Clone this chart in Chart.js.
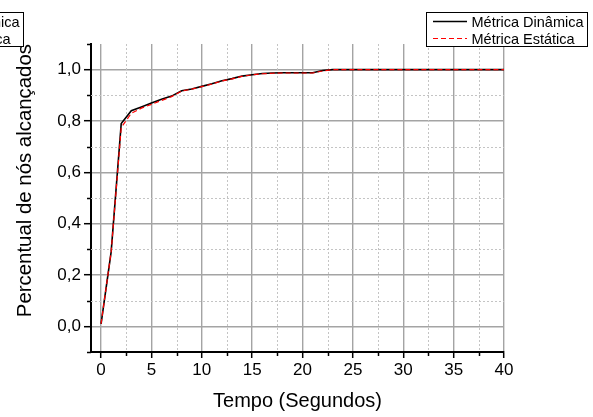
<!DOCTYPE html>
<html>
<head>
<meta charset="utf-8">
<script src="https://cdn.jsdelivr.net/npm/chart.js@4.4.0/dist/chart.umd.min.js"></script>
<style>
  html, body { margin: 0; padding: 0; background: #fff; }
  #wrap { width: 593px; height: 417px; position: relative; }
</style>
</head>
<body>
<div id="wrap"><canvas id="c" width="593" height="417"></canvas></div>
<script>
// Time in seconds
const seconds = [0, 1, 2, 3, 4, 5, 6, 7, 8, 9, 10, 11, 12, 13, 14, 15, 16, 17, 18, 19, 20,
                 21, 22, 23, 24, 25, 26, 27, 28, 29, 30, 31, 32, 33, 34, 35, 36, 37, 38, 39, 40];

// Fraction of nodes reached, dynamic metric
const dynamicMetric = [0.01, 0.29, 0.79, 0.84, 0.855, 0.87, 0.885, 0.897, 0.918, 0.925, 0.935,
                       0.945, 0.957, 0.965, 0.975, 0.98, 0.985, 0.987, 0.988, 0.988, 0.988,
                       0.988, 0.997, 1.0, 1.0, 1.0, 1.0, 1.0, 1.0, 1.0, 1.0,
                       1.0, 1.0, 1.0, 1.0, 1.0, 1.0, 1.0, 1.0, 1.0, 1.0];

// Fraction of nodes reached, static metric
const staticMetric = [0.01, 0.29, 0.775, 0.83, 0.85, 0.865, 0.88, 0.895, 0.917, 0.924, 0.934,
                      0.944, 0.956, 0.964, 0.974, 0.98, 0.984, 0.986, 0.987, 0.987, 0.987,
                      0.987, 0.995, 1.0, 1.0, 1.0, 1.0, 1.0, 1.0, 1.0, 1.0,
                      1.0, 1.0, 1.0, 1.0, 1.0, 1.0, 1.0, 1.0, 1.0, 1.0];

const seriesNames = ['Métrica Dinâmica', 'Métrica Estática'];

// Major ticks (labelled) and minor ticks for each axis
const xMajorTicks = [0, 5, 10, 15, 20, 25, 30, 35, 40];
const xMinorTicks = [2.5, 7.5, 12.5, 17.5, 22.5, 27.5, 32.5, 37.5];
const yMajorTicks = [0, 0.2, 0.4, 0.6, 0.8, 1.0];
const yMajorLabels = ['0,0', '0,2', '0,4', '0,6', '0,8', '1,0'];
const yMinorTicks = [-0.1, 0.1, 0.3, 0.5, 0.7, 0.9, 1.1];

const FONT = "Arial, 'Liberation Sans', sans-serif";
const near = (a, b) => Math.abs(a - b) < 1e-6;

// Dotted minor grid lines and short minor tick marks
const minorGridPlugin = {
  id: 'minorGrid',
  beforeDatasetsDraw(chart) {
    const { ctx, chartArea: a, scales: { x, y } } = chart;
    ctx.save();
    ctx.strokeStyle = '#c4c4c4';
    ctx.lineWidth = 1;
    ctx.setLineDash([2, 2]);
    xMinorTicks.forEach(v => {
      const px = Math.round(x.getPixelForValue(v)) + 0.5;
      ctx.beginPath(); ctx.moveTo(px, a.top); ctx.lineTo(px, a.bottom); ctx.stroke();
    });
    yMinorTicks.forEach(v => {
      if (v < 0 || v > 1.05) return;
      const py = Math.round(y.getPixelForValue(v)) + 0.5;
      ctx.beginPath(); ctx.moveTo(a.left, py); ctx.lineTo(a.right, py); ctx.stroke();
    });
    ctx.restore();
  },
  afterDraw(chart) {
    const { ctx, chartArea: a, scales: { x, y } } = chart;
    ctx.save();
    ctx.strokeStyle = '#000';
    ctx.lineWidth = 1.5;
    xMinorTicks.forEach(v => {
      const px = Math.round(x.getPixelForValue(v)) + 0.5;
      ctx.beginPath(); ctx.moveTo(px, a.bottom); ctx.lineTo(px, a.bottom + 4); ctx.stroke();
    });
    yMinorTicks.forEach(v => {
      const py = Math.round(y.getPixelForValue(v)) + 0.5;
      ctx.beginPath(); ctx.moveTo(a.left - 4, py); ctx.lineTo(a.left, py); ctx.stroke();
    });
    ctx.restore();
  }
};

// Boxed legend with line samples
function drawLegendBox(ctx, right) {
  const w = 161, h = 34, top = 12;
  const left = right - w;
  const colors = ['#000000', '#ff0000'];
  const dashes = [[], [5, 3]];
  const widths = [1.5, 1.2];
  ctx.save();
  ctx.fillStyle = '#fff';
  ctx.fillRect(left, top, w, h);
  ctx.strokeStyle = '#000';
  ctx.lineWidth = 1;
  ctx.strokeRect(left + 0.5, top + 0.5, w, h);
  ctx.font = '14.5px ' + FONT;
  ctx.textBaseline = 'middle';
  ctx.textAlign = 'left';
  seriesNames.forEach((name, i) => {
    const ry = top + 9.5 + i * 17;
    ctx.strokeStyle = colors[i];
    ctx.lineWidth = widths[i];
    ctx.setLineDash(dashes[i]);
    ctx.beginPath(); ctx.moveTo(left + 7, ry); ctx.lineTo(left + 41, ry); ctx.stroke();
    ctx.setLineDash([]);
    ctx.fillStyle = '#000';
    ctx.fillText(name, left + 45.5, ry + 1);
  });
  ctx.restore();
}

const legendPlugin = {
  id: 'boxLegend',
  afterDraw(chart) {
    drawLegendBox(chart.ctx, chart.width - 6);
    drawLegendBox(chart.ctx, 23);
  }
};

new Chart(document.getElementById('c'), {
  type: 'line',
  data: {
    datasets: [
      {
        label: seriesNames[0],
        data: seconds.map((t, i) => ({ x: t, y: dynamicMetric[i] })),
        borderColor: '#000000',
        borderWidth: 1.6,
        pointRadius: 0,
        tension: 0,
        order: 1
      },
      {
        label: seriesNames[1],
        data: seconds.map((t, i) => ({ x: t, y: staticMetric[i] })),
        borderColor: '#ff0000',
        borderWidth: 1.2,
        borderDash: [5, 3],
        pointRadius: 0,
        tension: 0,
        order: 0
      }
    ]
  },
  options: {
    responsive: false,
    animation: false,
    layout: { padding: { left: 0, right: 89, top: 44, bottom: 0 } },
    plugins: { legend: { display: false }, tooltip: { enabled: false } },
    scales: {
      x: {
        type: 'linear',
        min: -1,
        max: 40,
        afterBuildTicks: s => { s.ticks = xMajorTicks.map(v => ({ value: v })); },
        afterFit: s => { s.height = 65; },
        ticks: {
          autoSkip: false,
          maxRotation: 0,
          padding: 2,
          color: '#000',
          font: { family: FONT, size: 17 },
          callback: v => String(v)
        },
        grid: {
          color: '#a4a4a4',
          lineWidth: 1.4,
          tickColor: '#000',
          tickLength: 6,
          tickWidth: 1.5
        },
        border: { color: '#000', width: 2 },
        title: {
          display: true,
          text: 'Tempo (Segundos)',
          color: '#000',
          font: { family: FONT, size: 20 },
          padding: { top: 4, bottom: 4 }
        }
      },
      y: {
        type: 'linear',
        min: -0.1,
        max: 1.1,
        afterBuildTicks: s => { s.ticks = yMajorTicks.map(v => ({ value: v })); },
        afterFit: s => { s.width = 91; },
        ticks: {
          autoSkip: false,
          padding: 3,
          color: '#000',
          font: { family: FONT, size: 17 },
          callback: v => {
            const i = yMajorTicks.findIndex(t => near(t, v));
            return i >= 0 ? yMajorLabels[i] : '';
          }
        },
        grid: {
          color: '#a4a4a4',
          lineWidth: 1.4,
          tickColor: '#000',
          tickLength: 7,
          tickWidth: 1.5
        },
        border: { color: '#000', width: 2 },
        title: {
          display: true,
          text: 'Percentual de nós alcançados',
          align: 'end',
          color: '#000',
          font: { family: FONT, size: 20.4 },
          padding: { top: 13, bottom: 13 }
        }
      }
    }
  },
  plugins: [minorGridPlugin, legendPlugin]
});
</script>
</body>
</html>
